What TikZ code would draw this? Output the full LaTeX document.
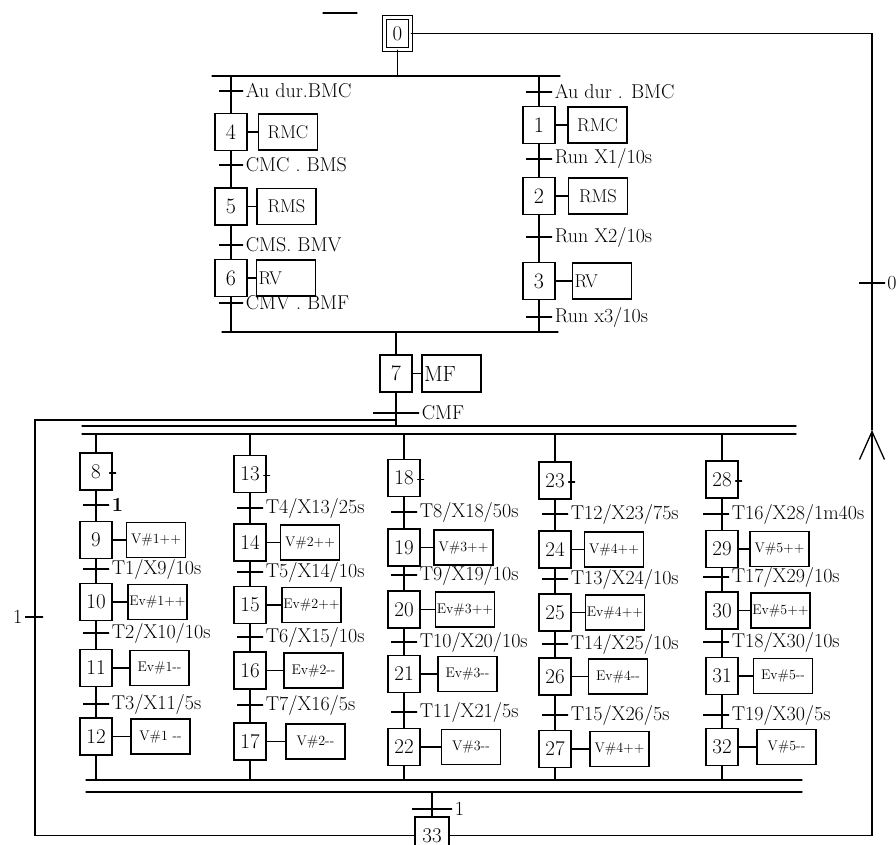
\documentclass[tikz,border=0pt]{standalone}
\usepackage{fontspec}
\usetikzlibrary{arrows.meta}
\tikzset{
  etape/.style={draw,minimum width=32pt,minimum height=37pt,inner sep=0pt,
    font=\fontsize{21}{21}\selectfont},
  init/.style={etape,double,double distance=2.5pt,minimum width=26pt,minimum height=32pt},
  action/.style={draw,minimum width=59pt,minimum height=35pt,inner sep=1pt,
    font=\fontsize{14}{14}\selectfont},
  topaction/.style={action,minimum height=36pt,font=\fontsize{18.5}{18.5}\selectfont},
  gauche/.style={text width=55pt,align=left},
  trans/.style={draw,inner sep=0pt,minimum height=0pt,minimum width=26pt,label distance=3.5pt},
  cond/.style={font=\fontsize{20}{20}\selectfont,inner sep=1.5pt},
}
\begin{document}
\begin{tikzpicture}[x=1pt,y=-1pt,line width=1.3pt,line cap=round]
\useasboundingbox (0,0) rectangle (896,845);
\clip (0,0) rectangle (896,845);
% etape initiale et divergence en OU
\draw (323,13) -- (357,13);
\node[init] (s0) at (397.5,33.5) {0};
\coordinate (ouL) at (212,76);
\coordinate (ouR) at (560,76);
\draw (ouL) -- (ouR);
\draw (s0) -- (s0 |- ouL);
% branche gauche
\node[trans,minimum width=24pt,label={[cond]right:Au dur.BMC}] (t4) at (231,91) {};
\node[etape,font=\fontsize{22}{22}\selectfont] (s4) at (231,132) {4};
\node[topaction] (a4) at (288,132) {RMC};
\node[trans,minimum width=24pt,label={[cond]right:CMC . BMS}] (t5) at (231,165) {};
\node[etape,font=\fontsize{22}{22}\selectfont] (s5) at (231,206.5) {5};
\node[topaction] (a5) at (286.5,206.5) {RMS};
\node[trans,minimum width=24pt,label={[cond]right:CMS. BMV}] (t6) at (231,245) {};
\node[etape,font=\fontsize{22}{22}\selectfont] (s6) at (231,278) {6};
\node[topaction,gauche] (a6) at (286,278) {RV};
\node[trans,minimum width=24pt,label={[cond]right:CMV . BMF}] (t7l) at (231,303) {};
% branche droite
\node[trans,label={[cond]right:Au dur . BMC}] (t1) at (539,92) {};
\node[etape,font=\fontsize{22}{22}\selectfont] (s1) at (539,125) {1};
\node[topaction] (a1) at (597.5,125) {RMC};
\node[trans,label={[cond]right:Run X1/10s}] (t2) at (539,159) {};
\node[etape,font=\fontsize{22}{22}\selectfont] (s2) at (539,196) {2};
\node[topaction] (a2) at (598,196) {RMS};
\node[trans,label={[cond]right:Run X2/10s}] (t3) at (539,237) {};
\node[etape,font=\fontsize{22}{22}\selectfont] (s3) at (539,281) {3};
\node[topaction,gauche] (a3) at (602,281) {RV};
\node[trans,label={[cond]right:Run x3/10s}] (t7r) at (539,317) {};
\coordinate (cvL) at (222,332);
\coordinate (cvR) at (558,332);
\draw (cvL) -- (cvR);
\draw (ouL -| s4) -- (s4) -- (s5) -- (s6) -- (s6 |- cvL);
\draw (ouL -| s1) -- (s1) -- (s2) -- (s3) -- (s3 |- cvL);
\foreach \n in {4,5,6,1,2,3} \draw (s\n) -- (a\n);
% etape 7 et divergence en ET
\node[etape,font=\fontsize{22}{22}\selectfont] (s7) at (396,373.5) {7};
\node[topaction,gauche,minimum height=37pt,font=\fontsize{22}{22}\selectfont] (a7) at (451.5,373.5) {MF};
\draw (s7) -- (a7);
\node[trans,minimum width=46pt,label={[cond]right:CMF}] (tCMF) at (396,413) {};
\coordinate (etH) at (82,426);
\coordinate (etB) at (82,434);
\draw (etH) -- (796,426) (etB) -- (796,434);
\draw (cvL -| s7) -- (s7) -- (s7 |- etH);
% colonne 1
\node[etape] (s8) at (96,471.5) {8};
\node[trans,label={[cond,font=\fontsize{20}{20}\selectfont\bfseries]right:1}] (t9) at (96,505) {};
\node[etape] (s9) at (96,540) {9};
\node[action] (a9) at (156,540) {V\#1++};
\node[trans,label={[cond]right:T1/X9/10s}] (t10) at (96,569) {};
\node[etape] (s10) at (96,602) {10};
\node[action] (a10) at (157.5,602) {Ev\#1++};
\node[trans,label={[cond]right:T2/X10/10s}] (t11) at (96,633) {};
\node[etape] (s11) at (96,668) {11};
\node[action] (a11) at (159.5,668) {Ev\#1-{}-};
\node[trans,label={[cond]right:T3/X11/5s}] (t12) at (96,704) {};
\node[etape] (s12) at (96,736.5) {12};
\node[action] (a12) at (160.5,736.5) {V\#1 -{}-};
% colonne 2
\node[etape] (s13) at (250,474) {13};
\node[trans,label={[cond]right:T4/X13/25s}] (t14) at (250,508) {};
\node[etape] (s14) at (250,542.5) {14};
\node[action] (a14) at (310,542.5) {V\#2++};
\node[trans,label={[cond]right:T5/X14/10s}] (t15) at (250,572) {};
\node[etape] (s15) at (250,605) {15};
\node[action] (a15) at (311.5,605) {Ev\#2++};
\node[trans,label={[cond]right:T6/X15/10s}] (t16) at (250,637) {};
\node[etape] (s16) at (250,670.5) {16};
\node[action] (a16) at (313.5,670.5) {Ev\#2-{}-};
\node[trans,label={[cond]right:T7/X16/5s}] (t17) at (250,705) {};
\node[etape] (s17) at (250,741.5) {17};
\node[action] (a17) at (315.5,741.5) {V\#2-{}-};
% colonne 3
\node[etape] (s18) at (404,478) {18};
\node[trans,label={[cond]right:T8/X18/50s}] (t19) at (404,512) {};
\node[etape] (s19) at (404,547.5) {19};
\node[action] (a19) at (463.5,547.5) {V\#3++};
\node[trans,label={[cond]right:T9/X19/10s}] (t20) at (404,575) {};
\node[etape] (s20) at (404,609.5) {20};
\node[action] (a20) at (465,609.5) {Ev\#3++};
\node[trans,label={[cond]right:T10/X20/10s}] (t21) at (404,642) {};
\node[etape] (s21) at (404,674) {21};
\node[action] (a21) at (467.5,674) {Ev\#3-{}-};
\node[trans,label={[cond]right:T11/X21/5s}] (t22) at (404,712) {};
\node[etape] (s22) at (404,747) {22};
\node[action] (a22) at (471,747) {V\#3-{}-};
% colonne 4
\node[etape] (s23) at (555,480.5) {23};
\node[trans,label={[cond]right:T12/X23/75s}] (t24) at (555,514) {};
\node[etape] (s24) at (555,549.5) {24};
\node[action] (a24) at (614,549.5) {V\#4++};
\node[trans,label={[cond]right:T13/X24/10s}] (t25) at (555,579) {};
\node[etape] (s25) at (555,612.5) {25};
\node[action] (a25) at (615,612.5) {Ev\#4++};
\node[trans,label={[cond]right:T14/X25/10s}] (t26) at (555,644) {};
\node[etape] (s26) at (555,676.5) {26};
\node[action] (a26) at (618,676.5) {Ev\#4-{}-};
\node[trans,label={[cond]right:T15/X26/5s}] (t27) at (555,715) {};
\node[etape] (s27) at (555,749) {27};
\node[action] (a27) at (619.5,749) {V\#4++};
% colonne 5
\node[etape] (s28) at (722,479.5) {28};
\node[trans,label={[cond]right:T16/X28/1m40s}] (t29) at (716,514) {};
\node[etape] (s29) at (722,549) {29};
\node[action] (a29) at (779.5,549) {V\#5++};
\node[trans,label={[cond]right:T17/X29/10s}] (t30) at (716,577) {};
\node[etape] (s30) at (722,610.5) {30};
\node[action] (a30) at (780.5,610.5) {Ev\#5++};
\node[trans,label={[cond]right:T18/X30/10s}] (t31) at (716,642) {};
\node[etape] (s31) at (722,676) {31};
\node[action] (a31) at (783,676) {Ev\#5-{}-};
\node[trans,label={[cond]right:T19/X30/5s}] (t32) at (716,715) {};
\node[etape] (s32) at (722,747) {32};
\node[action] (a32) at (786.5,747) {V\#5-{}-};
% liaisons des colonnes et convergence en ET
\coordinate (cvH) at (86,780);
\coordinate (cvB) at (86,792);
\draw (cvH) -- (802,780) (cvB) -- (802,792);
\foreach \a/\b/\c/\d/\e in {8/9/10/11/12,13/14/15/16/17,18/19/20/21/22,23/24/25/26/27,28/29/30/31/32}{
  \draw (s\a |- etB) -- (s\a) -- (s\b) -- (s\c) -- (s\d) -- (s\e) -- (s\e |- cvH);
  \draw (s\a.east) ++(-3,1.5) -- ++(6,0);
  \draw (s\b) -- (a\b) (s\c) -- (a\c) (s\d) -- (a\d) (s\e) -- (a\e);
}
% etape 33 et retours
\node[etape,minimum width=34pt] (s33) at (432,835.5) {33};
\node[trans,minimum width=40pt,label={[cond]right:1}] (t33) at (432,809) {};
\draw (s33 |- cvB) -- (s33);
\coordinate (gB) at (35,835.5);
\coordinate (gH) at (35,420);
\draw (s33) -- (gB) -- (gH) -- (gH -| s7);
\node[trans,minimum width=18pt,label={[cond]left:1}] (tg) at (34,617) {};
\coordinate (dB) at (872,835.5);
\coordinate (dH) at (872,33.5);
\coordinate (fl) at (872,430);
\draw[-{Straight Barb[length=28pt,width=25pt]}] (s33) -- (dB) -- (fl);
\draw (fl) -- (dH) -- (s0);
\node[trans,label={[cond,inner sep=1pt]right:0}] (td) at (872,283) {};
\end{tikzpicture}
\end{document}
